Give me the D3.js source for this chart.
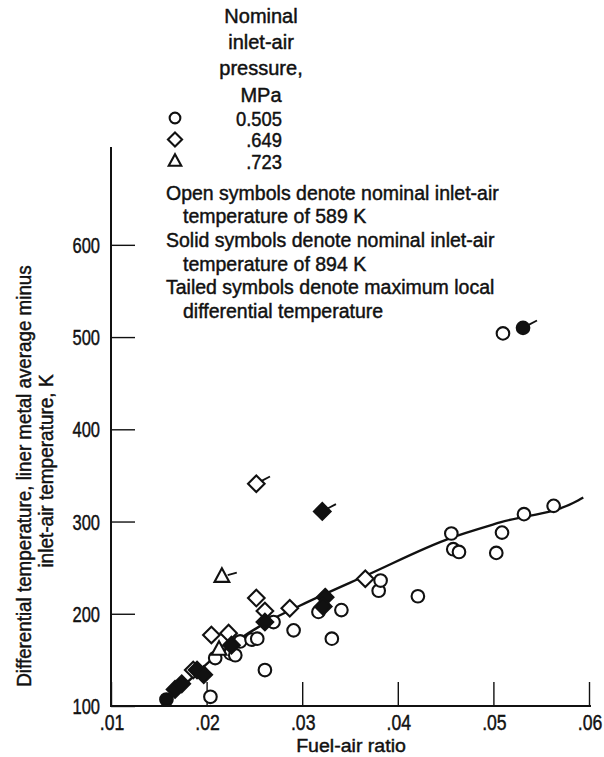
<!DOCTYPE html>
<html>
<head>
<meta charset="utf-8">
<script src="https://cdn.jsdelivr.net/npm/d3@7"></script>
<style>
  html, body { margin: 0; padding: 0; background: #fff; }
  svg { display: block; }
  text {
    font-family: "Liberation Sans", Arial, sans-serif;
    font-size: 20px;
    fill: #111;
    stroke: #111;
    stroke-width: 0.45px;
  }
  text.num { font-size: 22px; }
  text.xtitle { font-size: 19px; }
</style>
</head>
<body>
<svg id="chart" width="604" height="757"></svg>
<script>
// ---- axis ticks ----
const xTicks = [0.01, 0.02, 0.03, 0.04, 0.05, 0.06];
const xTickLabels = [".01", ".02", ".03", ".04", ".05", ".06"];
const yTicks = [100, 200, 300, 400, 500, 600];
const yTickLabels = ["100", "200", "300", "400", "500", "600"];

// ---- legend ----
const legendTitle = ["Nominal", "inlet-air", "pressure,", "MPa"];
const pressureShapes = ["circle", "diamond", "triangle"];
const pressureLabels = ["0.505", ".649", ".723"];
const notes = [
  ["Open symbols denote nominal inlet-air", false],
  ["temperature of 589 K", true],
  ["Solid symbols denote nominal inlet-air", false],
  ["temperature of 894 K", true],
  ["Tailed symbols denote maximum local", false],
  ["differential temperature", true]
];

// ---- data: [fuel-air ratio, differential temperature (K)] ----
// 0.505 MPa, 589 K
const circleOpen = [
  [0.0204, 110], [0.0209, 152], [0.0225, 157], [0.0230, 155], [0.0235, 170],
  [0.0247, 172], [0.0253, 173], [0.0261, 139], [0.0270, 191], [0.0291, 182],
  [0.0317, 202], [0.0331, 173], [0.0341, 204], [0.0380, 225], [0.0382, 236],
  [0.0421, 219], [0.0456, 287], [0.0458, 270], [0.0464, 267], [0.0503, 266],
  [0.0509, 288], [0.0532, 308], [0.0563, 317], [0.0510, 504]
];
// 0.505 MPa, 894 K
const circleSolid = [[0.0158, 107]];
const circleSolidTailed = [[0.0531, 510]];
// 0.649 MPa, 589 K
const diamondOpen = [
  [0.0186, 139], [0.0205, 177], [0.0223, 179], [0.0252, 217], [0.0261, 203],
  [0.0287, 206], [0.0366, 238]
];
const diamondOpenTailed = [[0.0252, 341]];
// 0.649 MPa, 894 K
const diamondSolid = [
  [0.0167, 118], [0.0174, 124], [0.0190, 139], [0.0197, 134], [0.0226, 166],
  [0.0261, 191], [0.0324, 218], [0.0322, 208]
];
const diamondSolidTailed = [[0.0321, 311]];
// 0.723 MPa, 589 K
const triangleOpen = [[0.0213, 161]];
const triangleOpenTailed = [[0.0216, 240]];

// faired curve through the data
const fitCurve = [
  [0.0157, 104], [0.0180, 126], [0.0205, 150], [0.0235, 173], [0.0265, 192],
  [0.0298, 209], [0.0368, 242], [0.0455, 282], [0.0507, 299], [0.0589, 323],
  [0.0594, 326]
];

const series = [
  { shape: "circle",   filled: false, tailed: false, pts: circleOpen },
  { shape: "triangle", filled: false, tailed: false, pts: triangleOpen },
  { shape: "diamond",  filled: false, tailed: false, pts: diamondOpen },
  { shape: "circle",   filled: true,  tailed: false, pts: circleSolid },
  { shape: "diamond",  filled: true,  tailed: false, pts: diamondSolid },
  { shape: "diamond",  filled: false, tailed: true,  pts: diamondOpenTailed },
  { shape: "diamond",  filled: true,  tailed: true,  pts: diamondSolidTailed },
  { shape: "circle",   filled: true,  tailed: true,  pts: circleSolidTailed },
  { shape: "triangle", filled: false, tailed: true,  pts: triangleOpenTailed }
];

// ---- scales ----
const x = d3.scaleLinear().domain([0.01, 0.06]).range([111, 589]);
const y = d3.scaleLinear().domain([100, 700]).range([706, 152.6]);

const svg = d3.select("#chart");

// text helper: condensed lettering via horizontal scale
function label(parent, px, py, str, opts = {}) {
  const sx = opts.sx ?? 1;
  const rot = opts.rotate ? ` rotate(${opts.rotate})` : "";
  return parent.append("text")
    .attr("class", opts.cls || null)
    .attr("transform", `translate(${px},${py})${rot} scale(${sx},1)`)
    .attr("text-anchor", opts.anchor || "start")
    .text(str);
}

// ---- axes ----
const gx = svg.append("g").attr("transform", `translate(0,${y(100)})`)
  .call(d3.axisBottom(x).tickValues(xTicks).tickSize(-24).tickFormat(() => ""));
const gy = svg.append("g").attr("transform", `translate(${x(0.01)},0)`)
  .call(d3.axisLeft(y).tickValues(yTicks).tickSize(-24).tickFormat(() => ""));
[gx, gy].forEach(g => {
  g.select(".domain").remove();
  g.selectAll(".tick line").attr("stroke", "#111").attr("stroke-width", 1.4);
});

// tick labels, placed from the same scales
xTicks.forEach((t, i) =>
  label(svg, x(t) + 1, y(100) + 23.5, xTickLabels[i], { anchor: "middle", sx: 0.8, cls: "num" }));
yTicks.forEach((t, i) =>
  label(svg, x(0.01) - 11, y(t) + 8, yTickLabels[i], { anchor: "end", sx: 0.75, cls: "num" }));

svg.append("line")
  .attr("x1", x(0.01)).attr("x2", x(0.06) + 2)
  .attr("y1", y(100)).attr("y2", y(100))
  .attr("stroke", "#111").attr("stroke-width", 2);
svg.append("line")
  .attr("x1", x(0.01)).attr("x2", x(0.01))
  .attr("y1", y(100) + 1).attr("y2", y(700) - 5.6)
  .attr("stroke", "#111").attr("stroke-width", 2);

// axis titles
label(svg, 351, 752, "Fuel-air ratio", { anchor: "middle", sx: 1.03, cls: "xtitle" });
label(svg, 31, 476, "Differential temperature, liner metal average minus",
  { anchor: "middle", rotate: -90, sx: 0.94 });
label(svg, 53, 471, "inlet-air temperature, K", { anchor: "middle", rotate: -90, sx: 0.95 });

// ---- marker drawing ----
function markerPath(shape, k) {
  if (shape === "diamond") {
    const h = 8.3 * k;
    return `M0,${-h}L${h},0L0,${h}L${-h},0Z`;
  }
  if (shape === "triangle") {
    const s = 7.4 * k;
    return `M0,${-8.6 * k}L${s},${5 * k}L${-s},${5 * k}Z`;
  }
  return null;
}

function drawMarker(g, shape, filled, cx, cy, k, tailed) {
  const m = g.append("g").attr("transform", `translate(${cx},${cy})`);
  if (tailed) {
    const ang = (shape === "triangle" ? -16 : -28) * Math.PI / 180;
    const r0 = shape === "circle" ? 6.3 : 6.0;
    const r1 = r0 + 9.5;
    m.append("line")
      .attr("x1", r0 * Math.cos(ang)).attr("y1", r0 * Math.sin(ang))
      .attr("x2", r1 * Math.cos(ang)).attr("y2", r1 * Math.sin(ang))
      .attr("stroke", "#111").attr("stroke-width", 1.8);
  }
  const el = shape === "circle"
    ? m.append("circle").attr("r", 6.3 * k)
    : m.append("path").attr("d", markerPath(shape, k)).attr("stroke-linejoin", "miter");
  el.attr("fill", filled ? "#111" : "#fff")
    .attr("stroke", "#111").attr("stroke-width", 2.1);
}

// ---- faired curve ----
svg.append("path")
  .datum(fitCurve)
  .attr("fill", "none").attr("stroke", "#111").attr("stroke-width", 2.4)
  .attr("d", d3.line().x(d => x(d[0])).y(d => y(d[1])).curve(d3.curveMonotoneX));

// ---- data points ----
const gPts = svg.append("g");
series.forEach(s => {
  s.pts.forEach(p => drawMarker(gPts, s.shape, s.filled, x(p[0]), y(p[1]), 1, s.tailed));
});

// ---- legend ----
const gLeg = svg.append("g");
legendTitle.forEach((t, i) => label(gLeg, 261, 22.7 + i * 26.3, t, { anchor: "middle" }));
const rowY = [118, 139.5, 161.5];
pressureShapes.forEach((s, i) => {
  drawMarker(gLeg, s, false, 175, rowY[i], 0.85, false);
  label(gLeg, 282, rowY[i] + 7.5, pressureLabels[i], { anchor: "end", sx: 0.92 });
});
notes.forEach((n, i) => label(gLeg, n[1] ? 183 : 166, 199.5 + i * 23.7, n[0], { sx: 0.975 }));
</script>
</body>
</html>
